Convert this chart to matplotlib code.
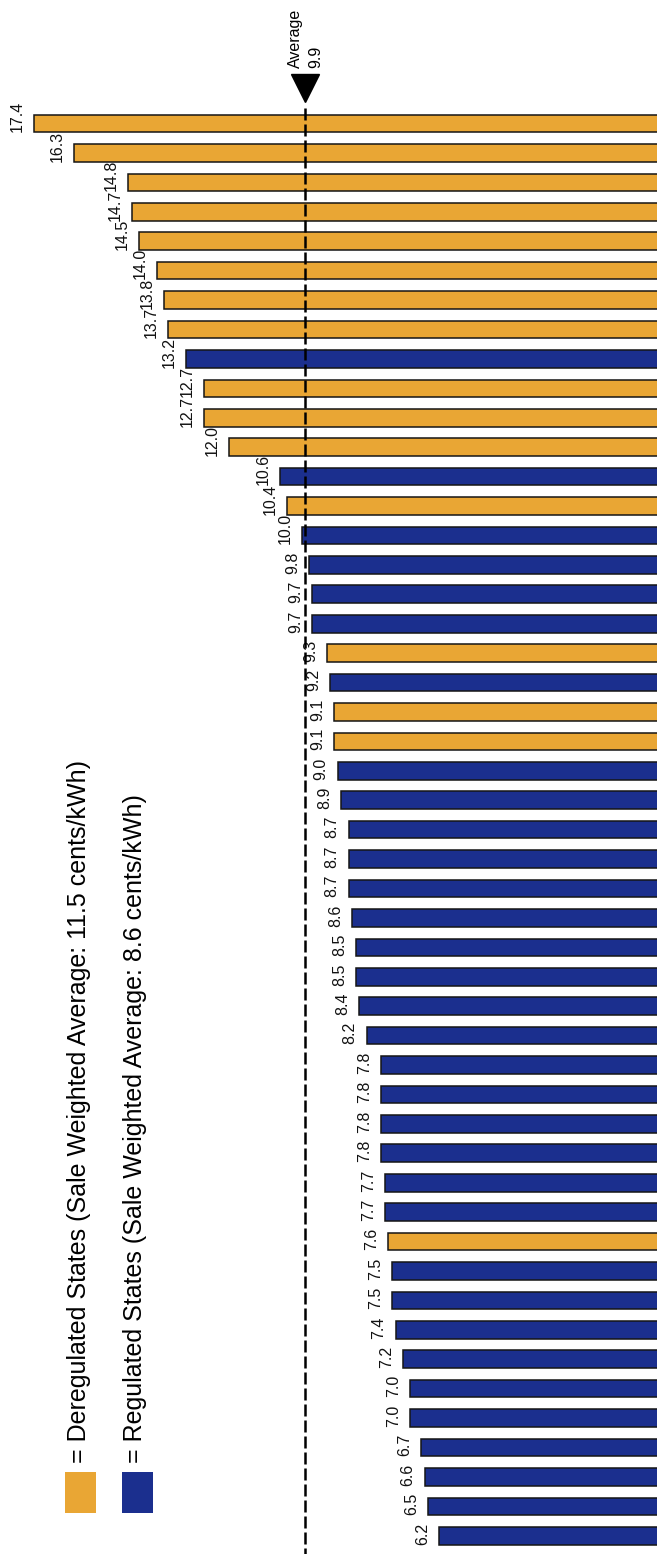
import matplotlib.pyplot as plt
from matplotlib.patches import Rectangle

# average retail price by state, cents/kWh, top bar first
prices = [17.4, 16.3, 14.8, 14.7, 14.5, 14.0, 13.8, 13.7, 13.2, 12.7,
          12.7, 12.0, 10.6, 10.4, 10.0, 9.8, 9.7, 9.7, 9.3, 9.2,
          9.1, 9.1, 9.0, 8.9, 8.7, 8.7, 8.7, 8.6, 8.5, 8.5,
          8.4, 8.2, 7.8, 7.8, 7.8, 7.8, 7.7, 7.7, 7.6, 7.5,
          7.5, 7.4, 7.2, 7.0, 7.0, 6.7, 6.6, 6.5, 6.2]
# D = deregulated, R = regulated
groups = ['D', 'D', 'D', 'D', 'D', 'D', 'D', 'D', 'R', 'D',
          'D', 'D', 'R', 'D', 'R', 'R', 'R', 'R', 'D', 'R',
          'D', 'D', 'R', 'R', 'R', 'R', 'R', 'R', 'R', 'R',
          'R', 'R', 'R', 'R', 'R', 'R', 'R', 'R', 'D', 'R',
          'R', 'R', 'R', 'R', 'R', 'R', 'R', 'R', 'R']
average = 9.9
legend_labels = ['= Deregulated States (Sale Weighted Average: 11.5 cents/kWh)',
                 '= Regulated States (Sale Weighted Average: 8.6 cents/kWh)']

orange = '#E9A634'
blue = '#1B2F8E'
colors = {'D': orange, 'R': blue}

plt.rcParams['font.family'] = ['Liberation Sans', 'DejaVu Sans']

fig = plt.figure(figsize=(6.57, 15.54), dpi=100)
ax = fig.add_axes([0, 0, 1, 1])
ax.axis('off')

pos = range(len(prices))
ax.barh(pos, prices, height=0.6, color=[colors[g] for g in groups],
        edgecolor='#151515', linewidth=1.1, zorder=2)

for i, v in enumerate(prices):
    ax.text(v + 0.25, i + 0.3, '%.1f' % v, rotation=90, ha='right', va='bottom',
            fontsize=11.5, color='#111111')

# average line with marker
ax.plot([average, average], [-0.53, 48.7], color='black', lw=1.8,
        dashes=(4.8, 1.6), zorder=3)
ax.plot([average], [-1.2], marker='v', markersize=20, color='black',
        clip_on=False, zorder=3)
ax.text(average, -1.89, 'Average\n%.1f' % average, rotation=90, ha='center',
        va='bottom', fontsize=11.5, linespacing=1.45, multialignment='left')

ax.set_xlim(18.34, 0.17)
ax.set_ylim(48.62, -4.2)

# legend boxes
ax.add_patch(Rectangle((0.099, 0.0264), 0.047, 0.0264, transform=ax.transAxes,
                       facecolor=orange, edgecolor='none', clip_on=False))
ax.add_patch(Rectangle((0.186, 0.0264), 0.047, 0.0264, transform=ax.transAxes,
                       facecolor=blue, edgecolor='none', clip_on=False))
ax.text(0.1195, 0.0586, legend_labels[0], transform=ax.transAxes, rotation=90,
        ha='center', va='bottom', fontsize=18)
ax.text(0.206, 0.0586, legend_labels[1], transform=ax.transAxes, rotation=90,
        ha='center', va='bottom', fontsize=18)

fig.savefig('out.png', dpi=100)
